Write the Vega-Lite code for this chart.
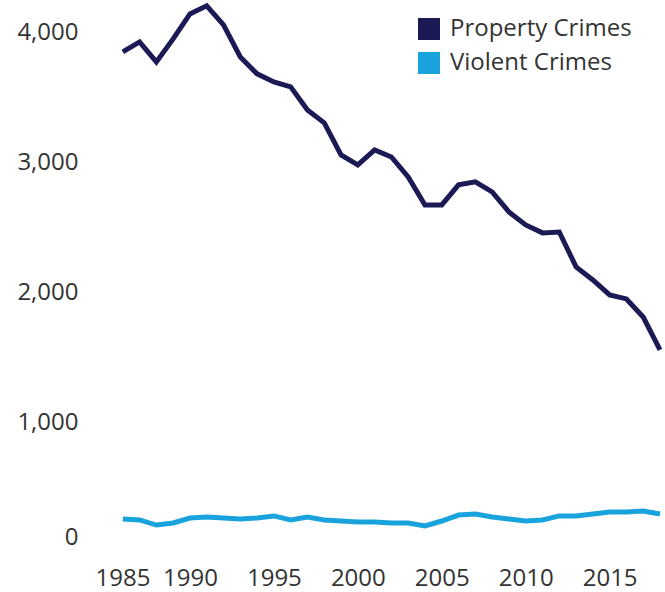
{
  "$schema": "https://vega.github.io/schema/vega-lite/v6.json",
  "autosize": {"type": "none"},
  "padding": {"left": 106, "top": 3, "right": 5, "bottom": 39},
  "width": 554,
  "height": 550,
  "background": "white",
  "config": {"view": {"stroke": null}, "font": "Open Sans"},
  "data": {"values": [
    {"year": 1986, "type": "Property Crimes", "rate": 3854},
    {"year": 1987, "type": "Property Crimes", "rate": 3931},
    {"year": 1988, "type": "Property Crimes", "rate": 3777},
    {"year": 1989, "type": "Property Crimes", "rate": 3954},
    {"year": 1990, "type": "Property Crimes", "rate": 4146},
    {"year": 1991, "type": "Property Crimes", "rate": 4208},
    {"year": 1992, "type": "Property Crimes", "rate": 4062},
    {"year": 1993, "type": "Property Crimes", "rate": 3815},
    {"year": 1994, "type": "Property Crimes", "rate": 3685},
    {"year": 1995, "type": "Property Crimes", "rate": 3623},
    {"year": 1996, "type": "Property Crimes", "rate": 3585},
    {"year": 1997, "type": "Property Crimes", "rate": 3408},
    {"year": 1998, "type": "Property Crimes", "rate": 3308},
    {"year": 1999, "type": "Property Crimes", "rate": 3062},
    {"year": 2000, "type": "Property Crimes", "rate": 2985},
    {"year": 2001, "type": "Property Crimes", "rate": 3100},
    {"year": 2002, "type": "Property Crimes", "rate": 3046},
    {"year": 2003, "type": "Property Crimes", "rate": 2892},
    {"year": 2004, "type": "Property Crimes", "rate": 2677},
    {"year": 2005, "type": "Property Crimes", "rate": 2677},
    {"year": 2006, "type": "Property Crimes", "rate": 2831},
    {"year": 2007, "type": "Property Crimes", "rate": 2854},
    {"year": 2008, "type": "Property Crimes", "rate": 2777},
    {"year": 2009, "type": "Property Crimes", "rate": 2623},
    {"year": 2010, "type": "Property Crimes", "rate": 2523},
    {"year": 2011, "type": "Property Crimes", "rate": 2462},
    {"year": 2012, "type": "Property Crimes", "rate": 2469},
    {"year": 2013, "type": "Property Crimes", "rate": 2200},
    {"year": 2014, "type": "Property Crimes", "rate": 2100},
    {"year": 2015, "type": "Property Crimes", "rate": 1985},
    {"year": 2016, "type": "Property Crimes", "rate": 1954},
    {"year": 2017, "type": "Property Crimes", "rate": 1815},
    {"year": 2018, "type": "Property Crimes", "rate": 1562},
    {"year": 1986, "type": "Violent Crimes", "rate": 262},
    {"year": 1987, "type": "Violent Crimes", "rate": 254},
    {"year": 1988, "type": "Violent Crimes", "rate": 215},
    {"year": 1989, "type": "Violent Crimes", "rate": 231},
    {"year": 1990, "type": "Violent Crimes", "rate": 269},
    {"year": 1991, "type": "Violent Crimes", "rate": 277},
    {"year": 1992, "type": "Violent Crimes", "rate": 269},
    {"year": 1993, "type": "Violent Crimes", "rate": 262},
    {"year": 1994, "type": "Violent Crimes", "rate": 269},
    {"year": 1995, "type": "Violent Crimes", "rate": 285},
    {"year": 1996, "type": "Violent Crimes", "rate": 254},
    {"year": 1997, "type": "Violent Crimes", "rate": 277},
    {"year": 1998, "type": "Violent Crimes", "rate": 254},
    {"year": 1999, "type": "Violent Crimes", "rate": 246},
    {"year": 2000, "type": "Violent Crimes", "rate": 238},
    {"year": 2001, "type": "Violent Crimes", "rate": 238},
    {"year": 2002, "type": "Violent Crimes", "rate": 231},
    {"year": 2003, "type": "Violent Crimes", "rate": 231},
    {"year": 2004, "type": "Violent Crimes", "rate": 208},
    {"year": 2005, "type": "Violent Crimes", "rate": 246},
    {"year": 2006, "type": "Violent Crimes", "rate": 292},
    {"year": 2007, "type": "Violent Crimes", "rate": 300},
    {"year": 2008, "type": "Violent Crimes", "rate": 277},
    {"year": 2009, "type": "Violent Crimes", "rate": 262},
    {"year": 2010, "type": "Violent Crimes", "rate": 246},
    {"year": 2011, "type": "Violent Crimes", "rate": 254},
    {"year": 2012, "type": "Violent Crimes", "rate": 285},
    {"year": 2013, "type": "Violent Crimes", "rate": 285},
    {"year": 2014, "type": "Violent Crimes", "rate": 300},
    {"year": 2015, "type": "Violent Crimes", "rate": 315},
    {"year": 2016, "type": "Violent Crimes", "rate": 315},
    {"year": 2017, "type": "Violent Crimes", "rate": 323},
    {"year": 2018, "type": "Violent Crimes", "rate": 300}
  ]},
  "mark": {"type": "line", "strokeWidth": 5, "strokeJoin": "miter", "strokeCap": "butt"},
  "encoding": {
    "x": {
      "field": "year", "type": "quantitative",
      "scale": {"domain": [1985, 2018], "nice": false, "zero": false},
      "axis": {
        "title": null, "values": [1985, 1990, 1995, 2000, 2005, 2010, 2015],
        "format": "d", "grid": false, "domain": false, "ticks": false, "tickSize": 0,
        "labelFont": "Open Sans", "labelFontSize": 24, "labelColor": "#333333",
        "labelPadding": 13, "labelFlush": true, "labelFlushOffset": 11,
        "labelOverlap": false
      }
    },
    "y": {
      "field": "rate", "type": "quantitative",
      "scale": {"domain": [0, 4230], "nice": false},
      "axis": {
        "title": null, "values": [0, 1000, 2000, 3000, 4000], "format": ",.0f",
        "grid": false, "domain": false, "ticks": false, "tickSize": 0,
        "labelFont": "Open Sans", "labelFontSize": 24, "labelColor": "#333333",
        "labelPadding": 28, "labelOverlap": false,
        "labelOffset": {"condition": {"test": "datum.value === 0", "value": -16}, "value": 0}
      }
    },
    "color": {
      "field": "type", "type": "nominal",
      "scale": {"domain": ["Property Crimes", "Violent Crimes"], "range": ["#1b1a55", "#19a3dd"]},
      "legend": {
        "title": null, "orient": "none", "legendX": 311, "legendY": 14,
        "padding": 0, "symbolType": "square", "symbolSize": 484,
        "symbolStrokeWidth": 0, "symbolOpacity": 1,
        "labelFont": "Open Sans", "labelFontSize": 24, "labelColor": "#333333",
        "labelOffset": 9, "rowPadding": 10, "labelLimit": 400,
        "encode": {"symbols": {"update": {"fill": {"scale": "color", "field": "value"}, "strokeWidth": {"value": 0}}}}
      }
    }
  }
}
